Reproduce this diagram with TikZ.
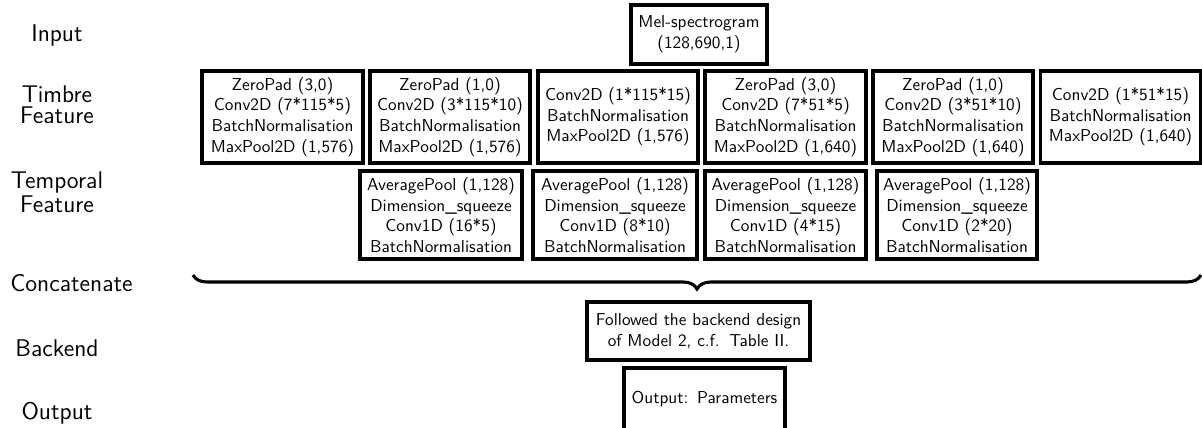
\documentclass[tikz,border=0pt]{standalone}
\usetikzlibrary{decorations.pathreplacing}
\begin{document}
\begin{tikzpicture}[x=0.58pt,y=-0.58pt,
  box/.style 2 args={draw, line width=1.8pt, align=center, inner sep=0pt,
    font=\sffamily\fontsize{10}{12}\selectfont,
    minimum width=#1*0.58pt, minimum height=#2*0.58pt},
  rowlabel/.style={align=center, inner sep=0pt, anchor=base,
    font=\sffamily\fontsize{14}{12.6}\selectfont}]
\useasboundingbox (0,0) rectangle (1202,428);
% row labels
\node[rowlabel] (lin) at (57,42) {Input};
\node[rowlabel] (ltim) at (57,124) {Timbre\\Feature};
\node[rowlabel] (ltem) at (57,213) {Temporal\\[1.4pt]Feature};
\node[rowlabel] (lcon) at (71.5,292) {Concatenate};
\node[rowlabel] (lback) at (57,357) {Backend};
\node[rowlabel] (lout) at (57,420) {Output};
% input
\node[box={136}{59}] (mel) at (699,34.5) {Mel-spectrogram\\(128,690,1)};
% timbre row
\node[box={161}{92}] (t1) at (282.5,117) {ZeroPad (3,0)\\Conv2D (7*115*5)\\BatchNormalisation\\MaxPool2D (1,576)};
\node[box={160}{92}] (t2) at (450,117) {ZeroPad (1,0)\\Conv2D (3*115*10)\\BatchNormalisation\\MaxPool2D (1,576)};
\node[box={160}{92}] (t3) at (618,117) {Conv2D (1*115*15)\\BatchNormalisation\\MaxPool2D (1,576)};
\node[box={161}{92}] (t4) at (785.5,117) {ZeroPad (3,0)\\Conv2D (7*51*5)\\BatchNormalisation\\MaxPool2D (1,640)};
\node[box={160}{92}] (t5) at (953,117) {ZeroPad (1,0)\\Conv2D (3*51*10)\\BatchNormalisation\\MaxPool2D (1,640)};
\node[box={160}{92}] (t6) at (1120.5,117) {Conv2D (1*51*15)\\BatchNormalisation\\MaxPool2D (1,640)};
% temporal row
\node[box={162}{88}] (p1) at (441,215) {AveragePool (1,128)\\Dimension\_squeeze\\Conv1D (16*5)\\BatchNormalisation};
\node[box={164}{88}] (p2) at (615,215) {AveragePool (1,128)\\Dimension\_squeeze\\Conv1D (8*10)\\BatchNormalisation};
\node[box={161}{88}] (p3) at (785.5,215) {AveragePool (1,128)\\Dimension\_squeeze\\Conv1D (4*15)\\BatchNormalisation};
\node[box={160}{88}] (p4) at (957,215) {AveragePool (1,128)\\Dimension\_squeeze\\Conv1D (2*20)\\BatchNormalisation};
% concatenate brace
\coordinate (bl) at (193,275);
\coordinate (br) at (1201,275);
\draw[line width=1.8pt, decorate, decoration={brace, mirror, amplitude=14*0.58pt}] (bl) -- (br);
% backend and output
\node[box={223}{58}] (back) at (698.5,331) {Followed the backend design\\of Model 2, c.f.\hspace{0.55em}Table II.};
\node[box={161}{62}] (out) at (704.5,399) {Output:\hspace{0.5em}Parameters};
\end{tikzpicture}
\end{document}
